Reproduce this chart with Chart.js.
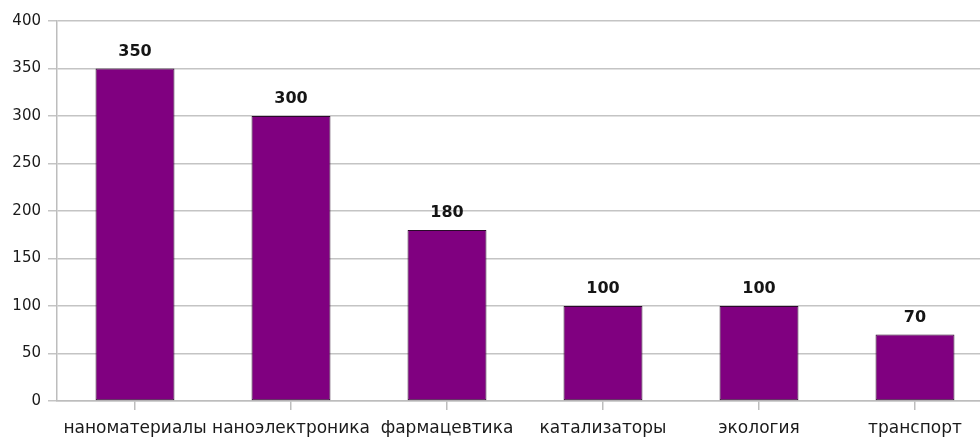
<!DOCTYPE html>
<html>
<head>
<meta charset="utf-8">
<script src="https://cdn.jsdelivr.net/npm/chart.js@4"></script>
<style>
    html, body { margin: 0; padding: 0; background: #fff; overflow: hidden; }
    #wrap { position: absolute; left: 0; top: 0; width: 993px; height: 437px; }
</style>
</head>
<body>
<div id="wrap"><canvas id="areas"></canvas></div>
<script>
// Categories and values
const xlabels = ["наноматериалы", "наноэлектроника", "фармацевтика", "катализаторы", "экология", "транспорт"];
const values = [350, 300, 180, 100, 100, 70];
const yticks = [0, 50, 100, 150, 200, 250, 300, 350, 400];

// Draw the value above each bar
const valueLabels = {
    id: 'valueLabels',
    afterDatasetsDraw(chart) {
        const ctx = chart.ctx;
        const meta = chart.getDatasetMeta(0);
        ctx.save();
        ctx.font = 'bold 16px "DejaVu Sans"';
        ctx.fillStyle = '#151515';
        ctx.textAlign = 'center';
        ctx.textBaseline = 'alphabetic';
        meta.data.forEach((bar, i) => {
            ctx.fillText(String(values[i]), bar.x, bar.y - 13);
        });
        ctx.restore();
    }
};

const chartdata = {
    labels: xlabels,
    datasets: [{
        data: values,
        backgroundColor: '#800080',
        borderColor: '#2a0a2a',
        borderWidth: 1,
        borderSkipped: false,
        barPercentage: 0.506,
        categoryPercentage: 1
    }]
};

const chartconfig = {
    type: 'bar',
    data: chartdata,
    options: {
        responsive: true,
        maintainAspectRatio: false,
        animation: false,
        layout: { padding: { top: 21, right: 0, left: 0, bottom: 0 } },
        plugins: {
            legend: { display: false },
            tooltip: { enabled: false },
            title: { display: false }
        },
        scales: {
            x: {
                grid: {
                    offset: false,
                    drawOnChartArea: false,
                    drawTicks: true,
                    tickLength: 9,
                    color: '#bdbdbd',
                    lineWidth: 1.5
                },
                border: { color: '#bdbdbd', width: 1.5 },
                ticks: {
                    color: '#1a1a1a',
                    font: { family: 'DejaVu Sans', size: 17 },
                    padding: 8,
                    maxRotation: 0,
                    autoSkip: false
                },
                afterFit: (axis) => { axis.height = 36; }
            },
            y: {
                min: 0,
                max: 400,
                afterBuildTicks: (axis) => { axis.ticks = yticks.map(v => ({ value: v })); },
                grid: {
                    color: '#c4c4c4',
                    lineWidth: 1.5,
                    tickLength: 9
                },
                border: { color: '#bdbdbd', width: 1.5 },
                ticks: {
                    color: '#1a1a1a',
                    font: { family: 'DejaVu Sans', size: 15 },
                    padding: 7
                },
                afterFit: (axis) => { axis.width = 57; }
            }
        }
    },
    plugins: [valueLabels]
};

const chart = new Chart('areas', chartconfig);
</script>
</body>
</html>
